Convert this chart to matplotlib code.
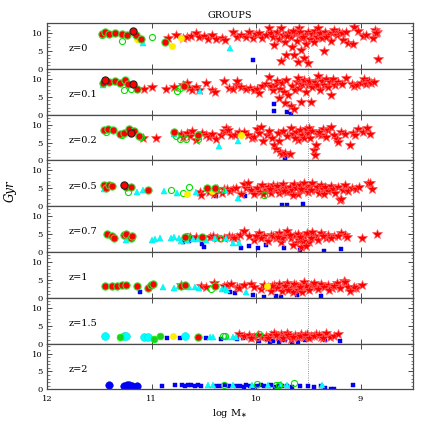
"""GROUPS: stellar age (Gyr) vs log M* at eight redshifts."""

import matplotlib

matplotlib.use("Agg")
import matplotlib.pyplot as plt
from matplotlib.ticker import MultipleLocator

plt.rcParams["font.family"] = ["DejaVu Serif"]

REDSHIFT_LABELS = ["z=0", "z=0.1", "z=0.2", "z=0.5", "z=0.7", "z=1", "z=1.5", "z=2"]

# ---- z = 0 ----
STAR_Z0 = [
    (10.84, 8.5), (10.77, 9.5), (10.70, 8.6), (10.66, 9.0), (10.62, 9.3), (10.58, 10.1),
    (10.55, 8.9), (10.50, 9.2), (10.46, 8.4), (10.42, 9.4), (10.38, 8.3), (10.33, 8.5),
    (10.30, 8.2), (10.22, 10.3), (10.18, 8.9), (10.14, 9.6), (10.10, 9.0), (10.07, 10.2),
    (10.03, 8.7), (10.00, 9.7), (9.97, 10.0), (9.94, 8.6), (9.91, 9.4), (9.88, 11.5),
    (9.86, 10.1), (9.84, 9.0), (9.83, 6.6), (9.80, 10.3), (9.78, 8.3), (9.76, 11.3),
    (9.76, 2.3), (9.74, 9.6), (9.72, 7.4), (9.71, 4.0), (9.69, 10.0), (9.67, 8.8),
    (9.66, 6.1), (9.64, 4.0), (9.63, 9.9), (9.61, 7.9), (9.60, 1.9), (9.59, 11.4),
    (9.58, 10.2), (9.57, 5.2), (9.56, 8.6), (9.54, 3.0), (9.53, 9.6), (9.52, 7.0),
    (9.50, 1.6), (9.50, 10.4), (9.48, 8.3), (9.46, 9.8), (9.44, 10.6), (9.42, 9.0),
    (9.41, 11.4), (9.39, 10.1), (9.37, 8.7), (9.35, 4.9), (9.34, 10.3), (9.31, 9.5),
    (9.28, 7.7), (9.27, 10.0), (9.25, 11.0), (9.23, 9.6), (9.21, 10.4), (9.18, 9.9),
    (9.17, 8.2), (9.14, 10.3), (9.12, 7.3), (9.07, 7.0), (9.06, 11.6), (9.02, 10.6),
    (8.98, 9.1), (8.95, 9.6), (8.88, 8.7), (8.86, 11.0), (8.84, 10.4), (8.83, 2.8),
    (8.85, 10.0), (9.70, 9.2), (9.65, 10.6), (9.55, 9.0), (9.45, 7.6), (9.33, 8.8),
]
REDDOT_Z0 = [(11.48, 9.8), (11.45, 10.3), (11.41, 9.7), (11.35, 10.0), (11.28, 9.8),
             (11.24, 9.5), (11.15, 9.4), (11.10, 8.3), (10.87, 7.6)]
REDDOT_DARK_Z0 = [(11.18, 10.6)]
OPEN_Z0 = [(11.48, 9.5), (11.28, 7.8), (11.00, 8.8)]
YELLOW_Z0 = [(11.14, 8.3), (10.81, 6.3), (10.72, 8.5)]
TRI_Z0 = [(11.08, 7.2), (10.25, 5.9)]
SQUARE_Z0 = [(10.03, 2.35)]

# ---- z = 0.1 ----
STAR_Z01 = [
    (11.07, 7.3), (11.00, 7.8), (10.86, 7.3), (10.79, 7.8), (10.70, 8.4), (10.66, 8.8),
    (10.64, 7.4), (10.61, 6.9), (10.58, 7.6), (10.55, 7.0), (10.48, 8.8), (10.42, 6.8),
    (10.39, 6.2), (10.31, 9.4), (10.26, 7.5), (10.22, 7.3), (10.18, 8.4), (10.18, 9.4),
    (10.14, 7.8), (10.10, 7.1), (10.06, 7.4), (10.02, 7.0), (9.99, 7.3), (9.97, 6.1),
    (9.94, 8.0), (9.91, 8.6), (9.88, 10.4), (9.86, 7.9), (9.84, 6.8), (9.82, 8.4),
    (9.80, 9.4), (9.78, 4.6), (9.77, 7.2), (9.75, 8.9), (9.73, 6.2), (9.72, 3.2),
    (9.71, 9.6), (9.69, 5.4), (9.67, 2.3), (9.66, 8.1), (9.64, 1.6), (9.63, 6.8),
    (9.61, 9.2), (9.60, 10.3), (9.59, 7.4), (9.57, 3.5), (9.56, 8.7), (9.54, 9.8),
    (9.52, 6.4), (9.50, 8.2), (9.49, 9.5), (9.47, 3.5), (9.46, 7.6), (9.44, 9.0),
    (9.42, 8.2), (9.41, 10.8), (9.39, 7.0), (9.37, 9.4), (9.35, 8.4), (9.33, 9.9),
    (9.31, 7.6), (9.29, 9.0), (9.28, 5.6), (9.26, 9.9), (9.24, 8.3), (9.22, 9.2),
    (9.18, 8.6), (9.14, 10.3), (9.08, 8.6), (9.06, 7.9), (9.03, 8.2), (9.00, 8.9),
    (8.97, 10.0), (8.95, 8.5), (8.92, 9.3), (8.90, 8.8), (8.87, 9.2),
]
REDDOT_Z01 = [(11.47, 8.9), (11.41, 9.1), (11.35, 9.3), (11.30, 8.9), (11.26, 9.6),
              (11.23, 8.7), (11.14, 7.3), (10.69, 8.0)]
REDDOT_DARK_Z01 = [(11.45, 9.7), (11.18, 8.6)]
OPEN_Z01 = [(11.27, 6.9), (11.20, 7.3), (10.76, 6.6), (10.73, 7.5)]
YELLOW_Z01 = []
TRI_Z01 = [(11.47, 8.3), (10.54, 6.5)]
SQUARE_Z01 = [(9.83, 3.0), (9.83, 0.9), (9.70, 0.75), (9.67, 0.3)]

# ---- z = 0.2 ----
STAR_Z02 = [
    (11.08, 6.2), (10.96, 6.4), (10.72, 7.4), (10.70, 6.5), (10.66, 7.8), (10.63, 6.9),
    (10.61, 8.1), (10.58, 5.8), (10.52, 7.7), (10.48, 7.0), (10.45, 6.6), (10.42, 7.5),
    (10.38, 5.9), (10.34, 7.0), (10.31, 8.3), (10.29, 9.0), (10.27, 8.4), (10.24, 7.2),
    (10.20, 7.1), (10.16, 7.9), (10.12, 8.0), (10.08, 7.0), (10.04, 6.2), (10.02, 6.5),
    (9.99, 8.8), (9.97, 7.6), (9.95, 9.4), (9.93, 5.5), (9.90, 7.0), (9.88, 8.3),
    (9.85, 6.2), (9.83, 4.2), (9.81, 3.2), (9.79, 7.6), (9.77, 2.5), (9.75, 1.8),
    (9.74, 8.2), (9.72, 2.2), (9.70, 6.8), (9.68, 1.9), (9.67, 9.0), (9.65, 7.4),
    (9.62, 8.0), (9.60, 5.6), (9.58, 8.4), (9.56, 7.0), (9.54, 6.2), (9.52, 8.8),
    (9.50, 7.6), (9.49, 9.0), (9.48, 6.2), (9.46, 8.2), (9.45, 3.0), (9.44, 1.6),
    (9.43, 4.3), (9.41, 7.4), (9.38, 7.0), (9.36, 8.8), (9.33, 6.6), (9.31, 8.4),
    (9.28, 9.35), (9.25, 7.2), (9.23, 6.05), (9.22, 5.1), (9.19, 8.0), (9.15, 7.5),
    (9.10, 4.2), (9.07, 7.6), (9.05, 7.0), (9.02, 8.9), (8.98, 7.9), (8.94, 9.1),
    (8.91, 7.5), (9.78, 5.4), (9.63, 6.3), (9.40, 8.0),
]
REDDOT_Z02 = [(11.46, 8.4), (11.42, 8.9), (11.37, 8.4), (11.30, 7.3), (11.27, 7.8),
              (11.22, 8.7), (11.17, 8.1), (11.12, 6.8), (10.79, 7.9), (10.56, 7.2)]
REDDOT_DARK_Z02 = [(11.20, 7.8)]
OPEN_Z02 = [(11.44, 8.0), (11.28, 7.1), (11.10, 6.5), (10.77, 6.8), (10.73, 5.9),
            (10.67, 6.1), (10.56, 6.1)]
YELLOW_Z02 = [(10.14, 7.2)]
TRI_Z02 = [(10.79, 7.3), (10.36, 4.0), (10.17, 5.5)]
SQUARE_Z02 = [(9.72, 0.6)]

# ---- z = 0.5 ----
STAR_Z05 = [
    (10.54, 4.0), (10.53, 3.0), (10.45, 3.9), (10.40, 3.3), (10.37, 4.8), (10.33, 3.6),
    (10.31, 4.7), (10.28, 4.9), (10.25, 4.2), (10.22, 4.9), (10.19, 5.2), (10.14, 3.3),
    (10.12, 6.2), (10.10, 5.2), (10.08, 6.5), (10.05, 4.6), (10.02, 3.3), (9.99, 5.0),
    (9.96, 4.0), (9.94, 5.8), (9.91, 4.4), (9.89, 5.4), (9.86, 3.8), (9.84, 6.0),
    (9.82, 4.9), (9.80, 5.6), (9.78, 3.6), (9.76, 4.6), (9.74, 6.3), (9.72, 5.0),
    (9.70, 3.9), (9.68, 5.5), (9.66, 4.4), (9.64, 6.1), (9.62, 5.0), (9.60, 3.4),
    (9.58, 5.8), (9.56, 4.5), (9.54, 6.4), (9.52, 5.1), (9.50, 4.0), (9.48, 5.6),
    (9.46, 6.6), (9.44, 4.6), (9.42, 5.3), (9.40, 3.8), (9.38, 6.0), (9.36, 4.8),
    (9.34, 5.4), (9.31, 4.3), (9.28, 5.7), (9.26, 4.9), (9.24, 3.6), (9.22, 5.5),
    (9.20, 1.7), (9.19, 2.0), (9.17, 4.6), (9.15, 5.8), (9.12, 4.2), (9.08, 5.0),
    (9.04, 4.9), (9.01, 5.5), (8.93, 6.5), (8.91, 6.4), (8.89, 4.7), (9.73, 4.2),
    (9.65, 3.2), (9.57, 4.8), (9.47, 4.4), (9.35, 3.5), (9.87, 4.9), (9.93, 3.4),
]
REDDOT_Z05 = [(11.46, 6.0), (11.44, 5.2), (11.41, 5.8), (11.38, 5.6), (11.25, 5.4),
              (11.20, 5.3), (11.04, 4.4), (10.47, 5.0), (10.39, 5.1)]
REDDOT_DARK_Z05 = [(11.27, 6.0)]
OPEN_Z05 = [(11.23, 4.0), (10.82, 4.5), (10.70, 3.6), (10.64, 5.5), (10.34, 4.6), (9.92, 3.0)]
YELLOW_Z05 = [(10.66, 3.5), (10.42, 4.2)]
TRI_Z05 = [(11.46, 4.9), (11.14, 4.0), (11.08, 4.6), (10.88, 4.2), (10.76, 3.8),
           (10.58, 4.0), (10.30, 4.4), (10.17, 2.2)]
SQUARE_Z05 = [(10.38, 2.9), (10.11, 2.8), (10.03, 3.9), (9.75, 0.3), (9.70, 0.3), (9.55, 0.5)]

# ---- z = 0.7 ----
STAR_Z07 = [
    (10.63, 4.3), (10.58, 4.1), (10.44, 4.2), (10.41, 4.6), (10.37, 4.0), (10.26, 4.5),
    (10.23, 4.3), (10.18, 4.1), (10.31, 4.05), (10.21, 3.86), (10.15, 4.8), (10.12, 5.77),
    (10.07, 4.35), (10.02, 3.4), (9.97, 5.3), (9.92, 4.35), (9.89, 3.1), (9.86, 4.8),
    (9.81, 3.86), (9.78, 5.3), (9.76, 2.9), (9.73, 4.35), (9.70, 5.77), (9.67, 3.86),
    (9.63, 4.8), (9.62, 2.45), (9.59, 3.4), (9.57, 1.5), (9.54, 4.35), (9.51, 5.3),
    (9.49, 2.9), (9.44, 4.35), (9.41, 3.4), (9.38, 5.3), (9.33, 3.86), (9.31, 4.8),
    (9.25, 4.35), (9.19, 5.3), (9.15, 4.8), (9.13, 4.1), (8.99, 4.05), (8.84, 5.0),
    (9.95, 3.8), (9.84, 4.6), (9.75, 3.9), (9.68, 4.8), (9.65, 2.0), (9.60, 5.0),
    (9.55, 3.0), (9.52, 1.8), (9.47, 4.0), (9.46, 5.6), (9.36, 4.4), (9.28, 3.9),
    (9.22, 4.5), (10.00, 4.6), (9.79, 4.1), (9.58, 4.1),
]
REDDOT_Z07 = [(11.43, 5.0), (11.38, 4.6), (11.36, 3.9), (11.27, 4.8), (11.25, 5.0),
              (11.20, 3.9), (11.19, 4.6), (10.68, 4.3), (10.52, 4.1)]
REDDOT_DARK_Z07 = []
OPEN_Z07 = [(10.66, 4.4), (10.35, 4.0)]
YELLOW_Z07 = []
TRI_Z07 = [(11.25, 3.4), (11.00, 3.4), (10.97, 3.7), (10.92, 3.9), (10.82, 3.9),
           (10.79, 4.2), (10.74, 3.9), (10.72, 3.1), (10.66, 3.4), (10.60, 3.6),
           (10.56, 3.7), (10.48, 3.4), (10.39, 3.9), (10.29, 3.9), (10.22, 2.5), (10.16, 2.5)]
SQUARE_Z07 = [(10.70, 2.9), (10.64, 3.1), (10.52, 2.2), (10.50, 1.5), (10.14, 1.2),
              (10.07, 1.8), (9.98, 1.2), (9.91, 2.0), (9.73, 1.2), (9.58, 0.57),
              (9.35, 0.3), (9.19, 0.85)]

# ---- z = 1 ----
STAR_Z1 = [
    (10.72, 3.6), (10.53, 3.3), (10.48, 3.1), (10.40, 4.1), (10.31, 3.4), (10.28, 3.6),
    (10.24, 3.8), (10.18, 3.1), (10.16, 2.84), (10.12, 3.6), (10.05, 3.8), (10.02, 3.1),
    (9.89, 3.1), (9.83, 3.6), (9.78, 3.8), (9.73, 3.1), (9.70, 4.0), (9.67, 2.65),
    (9.65, 1.5), (9.62, 3.6), (9.57, 3.1), (9.54, 4.35), (9.51, 2.65), (9.47, 3.6),
    (9.43, 3.1), (9.38, 3.8), (9.31, 3.6), (9.27, 2.84), (9.23, 4.0), (9.16, 4.65),
    (9.07, 2.84), (9.04, 2.65), (8.99, 3.6), (9.06, 3.1), (9.15, 4.5),
    (9.95, 2.4), (9.86, 2.0), (9.80, 2.6), (9.75, 1.8), (9.72, 3.4), (9.69, 2.2),
    (9.64, 3.9), (9.60, 2.3), (9.56, 1.7), (9.52, 3.2), (9.49, 2.1), (9.45, 4.1),
    (9.41, 2.4), (9.35, 3.0), (9.30, 2.2), (9.25, 3.3), (9.20, 2.6), (9.12, 3.0),
    (9.10, 1.8), (9.92, 3.6), (9.58, 2.9), (9.85, 3.2),
]
REDDOT_Z1 = [(11.45, 3.4), (11.38, 3.2), (11.33, 3.4), (11.28, 3.6), (11.25, 3.6),
             (11.14, 3.4), (11.04, 2.7), (11.01, 3.6), (10.99, 3.8), (10.72, 3.4),
             (10.68, 3.5), (10.39, 3.4)]
REDDOT_DARK_Z1 = []
OPEN_Z1 = [(10.43, 2.4)]
YELLOW_Z1 = [(9.90, 3.4)]
TRI_Z1 = [(10.89, 3.0), (10.79, 2.8), (10.74, 3.2), (10.64, 3.1), (10.59, 3.0),
          (10.55, 2.6), (10.33, 2.5), (10.30, 2.8), (10.28, 2.2), (10.10, 1.5)]
SQUARE_Z1 = [(11.11, 1.7), (10.25, 1.5), (10.20, 1.2), (10.03, 0.75), (9.92, 0.28),
             (9.81, 0.57), (9.76, 0.28), (9.61, 0.75), (9.38, 0.57)]

# ---- z = 1.5 ----
STAR_Z15 = [
    (10.16, 2.6), (10.12, 2.1), (10.07, 2.4), (10.02, 1.9), (9.95, 1.9), (9.91, 2.1),
    (9.86, 2.4), (9.83, 3.0), (9.79, 1.9), (9.76, 2.6), (9.73, 2.1), (9.70, 3.0),
    (9.67, 1.4), (9.63, 2.4), (9.60, 1.9), (9.57, 2.8), (9.54, 1.7), (9.51, 2.6),
    (9.47, 2.1), (9.43, 2.6), (9.38, 1.9), (9.33, 3.0), (9.29, 1.7), (9.25, 2.1),
    (9.22, 2.6), (9.89, 1.6), (9.81, 2.4), (9.74, 1.6), (9.69, 2.3), (9.65, 1.9),
    (9.58, 2.2), (9.53, 2.3), (9.49, 1.6), (9.45, 2.0), (9.40, 2.5), (9.36, 1.5),
    (9.98, 2.3), (10.05, 1.6),
]
BIGCYAN_Z15 = [(11.45, 2.1), (11.27, 2.0), (11.25, 2.1), (11.07, 1.9), (11.04, 1.9), (10.68, 2.1)]
GREENDOT_Z15 = [(11.30, 1.7), (10.98, 1.4), (10.92, 2.1)]
REDDOT_Z15 = [(10.56, 1.7)]
OPEN_Z15 = [(10.32, 2.0), (10.30, 2.0), (9.97, 2.6)]
YELLOW_Z15 = [(10.80, 2.1)]
TRI_Z15 = [(10.44, 1.9), (10.41, 1.7), (10.28, 1.9), (10.22, 1.7), (10.19, 1.9)]
SQUARE_Z15 = [(10.85, 1.5), (10.73, 1.5), (10.48, 1.5), (10.34, 1.2), (10.18, 1.2),
              (10.13, 1.5), (10.05, 1.2), (9.97, 0.6), (9.90, 1.2), (9.87, 0.4),
              (9.84, 0.6), (9.78, 0.3), (9.75, 1.0), (9.72, 0.9), (9.66, 0.3),
              (9.60, 0.4), (9.53, 1.0), (9.48, 1.2), (9.34, 1.0), (9.20, 0.6)]

# ---- z = 2 ----
BIGBLUE_Z2 = [(11.41, 1.3), (11.27, 0.95), (11.24, 1.1), (11.22, 1.1), (11.19, 1.0), (11.14, 0.95)]
OPEN_Z2 = [(10.31, 1.3), (9.99, 1.6), (9.81, 1.3), (9.78, 1.1), (9.64, 1.7)]
TRI_Z2 = [(10.46, 1.3), (10.41, 1.3), (10.22, 1.3), (10.04, 1.3), (9.89, 1.3),
          (9.76, 1.5), (9.70, 1.3), (9.37, 1.3)]
SQUARE_Z2 = [(10.90, 0.85), (10.78, 1.3), (10.71, 1.2), (10.68, 1.0), (10.65, 1.3),
             (10.62, 1.1), (10.59, 0.9), (10.56, 1.2), (10.53, 1.0), (10.38, 0.8),
             (10.35, 1.0), (10.30, 1.1), (10.26, 1.0), (10.19, 0.95), (10.15, 0.9),
             (10.12, 0.6), (10.10, 1.1), (10.06, 1.0), (10.03, 0.7), (9.99, 1.0),
             (9.95, 1.2), (9.92, 0.9), (9.88, 0.8), (9.86, 1.1), (9.82, 0.6),
             (9.78, 1.0), (9.75, 0.8), (9.70, 1.0), (9.66, 0.7), (9.58, 0.85),
             (9.50, 0.9), (9.45, 0.6), (9.38, 0.9), (9.34, 0.4), (9.28, 0.0),
             (9.25, 0.0), (9.07, 1.3)]

PANELS = [
    dict(star=STAR_Z0, reddot=REDDOT_Z0, reddot_dark=REDDOT_DARK_Z0, open=OPEN_Z0,
         yellow=YELLOW_Z0, tri=TRI_Z0, square=SQUARE_Z0),
    dict(star=STAR_Z01, reddot=REDDOT_Z01, reddot_dark=REDDOT_DARK_Z01, open=OPEN_Z01,
         yellow=YELLOW_Z01, tri=TRI_Z01, square=SQUARE_Z01),
    dict(star=STAR_Z02, reddot=REDDOT_Z02, reddot_dark=REDDOT_DARK_Z02, open=OPEN_Z02,
         yellow=YELLOW_Z02, tri=TRI_Z02, square=SQUARE_Z02),
    dict(star=STAR_Z05, reddot=REDDOT_Z05, reddot_dark=REDDOT_DARK_Z05, open=OPEN_Z05,
         yellow=YELLOW_Z05, tri=TRI_Z05, square=SQUARE_Z05),
    dict(star=STAR_Z07, reddot=REDDOT_Z07, reddot_dark=REDDOT_DARK_Z07, open=OPEN_Z07,
         yellow=YELLOW_Z07, tri=TRI_Z07, square=SQUARE_Z07),
    dict(star=STAR_Z1, reddot=REDDOT_Z1, reddot_dark=REDDOT_DARK_Z1, open=OPEN_Z1,
         yellow=YELLOW_Z1, tri=TRI_Z1, square=SQUARE_Z1),
    dict(star=STAR_Z15, bigcyan=BIGCYAN_Z15, greendot=GREENDOT_Z15, reddot=REDDOT_Z15,
         open=OPEN_Z15, yellow=YELLOW_Z15, tri=TRI_Z15, square=SQUARE_Z15),
    dict(bigblue=BIGBLUE_Z2, open=OPEN_Z2, tri=TRI_Z2, square=SQUARE_Z2),
]

# marker styles, drawn in this order
STYLES = [
    ("square", dict(marker="s", ms=3.4, mfc="#0000ff", mec="#0000cc", mew=0.3)),
    ("star", dict(marker="*", ms=7.2, mfc="#ff0000", mec="#ff5c5c", mew=0.5)),
    ("tri", dict(marker="^", ms=3.8, mfc="#00ffff", mec="#00e0e0", mew=0.3)),
    ("bigblue", dict(marker="o", ms=5.4, mfc="#0000ff", mec="#0000cc", mew=0.4)),
    ("bigcyan", dict(marker="o", ms=5.6, mfc="#00ffff", mec="#00e0e0", mew=0.4)),
    ("greendot", dict(marker="o", ms=4.8, mfc="#22cc22", mec="#00ff00", mew=0.6)),
    ("open", dict(marker="o", ms=4.4, mfc="none", mec="#00e000", mew=0.8)),
    ("yellow", dict(marker="o", ms=4.6, mfc="#ffee00", mec="#ffee00", mew=0.4)),
    ("reddot", dict(marker="o", ms=5.2, mfc="#ff0000", mec="#33dd33", mew=0.8)),
    ("reddot_dark", dict(marker="o", ms=5.2, mfc="#ff0000", mec="#222222", mew=0.8)),
]

fig = plt.figure(figsize=(4.36, 4.36), dpi=100)
axes = fig.subplots(len(PANELS), 1, sharex=True,
                    gridspec_kw=dict(hspace=0, left=0.1085, right=0.9466,
                                     bottom=0.107, top=0.947))

frame = "#4a4a4a"
for ax, panel, label in zip(axes, PANELS, REDSHIFT_LABELS):
    for key, style in STYLES:
        pts = panel.get(key, [])
        if not pts:
            continue
        xs = [p[0] for p in pts]
        ys = [p[1] for p in pts]
        ax.plot(xs, ys, ls="none", **style)
    ax.axvline(9.5, color="#777777", ls=":", lw=0.6, zorder=0)
    ax.text(11.8, 5.6, label, fontsize=7, va="center", ha="left")
    ax.set_xlim(12, 8.5)
    ax.set_ylim(0, 12.8)
    ax.yaxis.set_major_locator(MultipleLocator(5))
    ax.yaxis.set_minor_locator(MultipleLocator(1))
    ax.xaxis.set_major_locator(MultipleLocator(1))
    ax.tick_params(which="both", direction="in", top=True, right=True,
                   color=frame, labelsize=6)
    ax.tick_params(axis="y", pad=3.5)
    ax.tick_params(axis="x", pad=4)
    ax.tick_params(which="major", length=3.8, width=0.7)
    ax.tick_params(which="minor", length=1.8, width=0.5)
    for s in ax.spines.values():
        s.set_color(frame)
        s.set_linewidth(0.9)

axes[-1].set_xticks([12, 11, 10, 9])
axes[-1].set_xticklabels(["12", "11", "10", "9"])
axes[-1].set_xlabel(r"log M$_{\ast}$", fontsize=7, labelpad=3)
axes[0].set_title("GROUPS", fontsize=7, pad=4)
fig.text(0.023, 1 - 191 / 436, "Gyr", rotation=90, fontsize=8.5, style="italic",
         va="center", ha="center")

fig.savefig("out.png", dpi=100)
